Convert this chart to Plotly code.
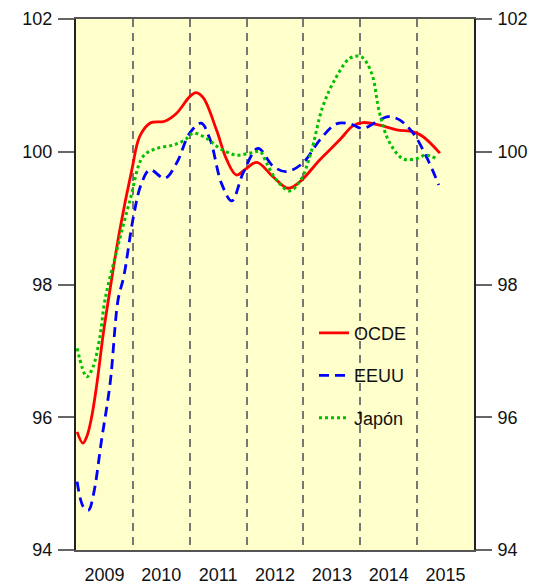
import plotly.graph_objects as go

# ---- data (decimal year, index value) ----
ocde_x = [2009.02, 2009.12, 2009.19, 2009.27, 2009.36, 2009.48, 2009.57, 2009.77, 2009.98,
          2010.12, 2010.30, 2010.56, 2010.77, 2011.00, 2011.11, 2011.24, 2011.47, 2011.65,
          2011.82, 2011.97, 2012.18, 2012.47, 2012.73, 2012.94, 2013.29, 2013.64, 2013.87,
          2014.05, 2014.34, 2014.64, 2014.93, 2015.10, 2015.40]
ocde_y = [95.78, 95.61, 95.71, 95.98, 96.46, 97.26, 97.77, 98.82, 99.72,
          100.23, 100.43, 100.46, 100.58, 100.83, 100.89, 100.81, 100.33, 99.88,
          99.65, 99.73, 99.84, 99.62, 99.45, 99.55, 99.88, 100.18, 100.39,
          100.44, 100.40, 100.33, 100.30, 100.23, 99.98]

eeuu_x = [2009.02, 2009.13, 2009.22, 2009.31, 2009.45, 2009.60, 2009.74, 2009.84, 2010.01,
          2010.15, 2010.30, 2010.56, 2010.77, 2011.00, 2011.20, 2011.36, 2011.56, 2011.74,
          2011.94, 2012.20, 2012.47, 2012.70, 2012.99, 2013.29, 2013.58, 2013.82, 2014.05,
          2014.28, 2014.49, 2014.69, 2014.93, 2015.16, 2015.38]
eeuu_y = [95.03, 94.65, 94.60, 94.85, 95.66, 96.51, 97.77, 98.12, 99.02,
          99.52, 99.73, 99.60, 99.83, 100.28, 100.43, 100.18, 99.52, 99.26,
          99.68, 100.05, 99.78, 99.70, 99.83, 100.18, 100.42, 100.42, 100.35,
          100.45, 100.53, 100.48, 100.28, 99.93, 99.50]

japon_x = [2009.02, 2009.19, 2009.30, 2009.42, 2009.51, 2009.72, 2009.95, 2010.18, 2010.42,
           2010.71, 2010.92, 2011.06, 2011.30, 2011.53, 2011.82, 2012.06, 2012.24, 2012.35,
           2012.53, 2012.76, 2012.95, 2013.13, 2013.34, 2013.58, 2013.82, 2014.02, 2014.20,
           2014.34, 2014.52, 2014.76, 2015.00, 2015.15, 2015.35]
japon_y = [97.04, 96.61, 96.76, 97.21, 97.77, 98.52, 99.27, 99.93, 100.05,
           100.10, 100.18, 100.28, 100.20, 100.05, 99.95, 99.98, 100.00, 99.83,
           99.57, 99.41, 99.57, 99.98, 100.68, 101.13, 101.41, 101.43, 101.18,
           100.58, 100.13, 99.89, 99.90, 99.95, 99.89]

years = [2009, 2010, 2011, 2012, 2013, 2014, 2015]
year_labels = [str(y) for y in years]
y_ticks = [94, 96, 98, 100, 102]

FONT = "Liberation Sans, Arial, sans-serif"

fig = go.Figure()
fig.add_trace(go.Scatter(x=ocde_x, y=ocde_y, name="OCDE", mode="lines",
                         line=dict(color="#FF0000", width=2.8, shape="spline", smoothing=1.0),
                         legendgroup="a"))
fig.add_trace(go.Scatter(x=eeuu_x, y=eeuu_y, name="EEUU", mode="lines",
                         line=dict(color="#0000FF", width=2.8, dash="10px,6px", shape="spline", smoothing=1.0),
                         legendgroup="b"))
fig.add_trace(go.Scatter(x=japon_x, y=japon_y, name="Japón", mode="lines",
                         line=dict(color="#00C000", width=3, dash="3px,3px", shape="spline", smoothing=1.0),
                         legendgroup="c"))
# invisible companion so the right-hand axis gets drawn with its labels
fig.add_trace(go.Scatter(x=ocde_x, y=ocde_y, yaxis="y2", mode="lines", showlegend=False,
                         hoverinfo="skip", line=dict(color="rgba(0,0,0,0)", width=0)))

fig.update_layout(
    width=540, height=584,
    margin=dict(l=76, r=66, t=19, b=34, autoexpand=False),
    paper_bgcolor="white",
    plot_bgcolor="#FFFFCC",
    font=dict(family=FONT, size=18, color="#111111"),
    showlegend=True,
    legend=dict(x=0.598, y=0.443, xanchor="left", yanchor="top",
                bgcolor="rgba(0,0,0,0)", borderwidth=0,
                font=dict(size=18), tracegroupgap=16, itemwidth=30),
    xaxis=dict(
        range=[2009, 2016], automargin=False,
        tickvals=[y + 0.5 for y in years], ticktext=year_labels,
        ticks="outside", ticklen=8, tickcolor="rgba(0,0,0,0)",
        showgrid=False, zeroline=False,
        showline=True, linecolor="#555555", linewidth=1.5, mirror=True,
        minor=dict(tick0=2009, dtick=1, showgrid=True, gridcolor="#777777",
                   gridwidth=1.6, griddash="8px,6px"),
    ),
    yaxis=dict(
        range=[94, 102], tickvals=y_ticks, automargin=False,
        ticks="outside", ticklen=16, tickcolor="#666666", tickwidth=1.5,
        ticklabelstandoff=2,
        showgrid=False, zeroline=False,
        showline=True, linecolor="#222222", linewidth=2,
    ),
    yaxis2=dict(
        range=[94, 102], tickvals=y_ticks, overlaying="y", side="right", automargin=False,
        ticks="outside", ticklen=16, tickcolor="#666666", tickwidth=1.5,
        ticklabelstandoff=2,
        showgrid=False, zeroline=False,
        showline=True, linecolor="#222222", linewidth=2,
    ),
)

fig.write_html(
    "out.html",
    config={"displayModeBar": False},
    post_script="document.body.style.margin='0px';document.documentElement.style.overflow='hidden';document.body.style.overflow='hidden';",
)
